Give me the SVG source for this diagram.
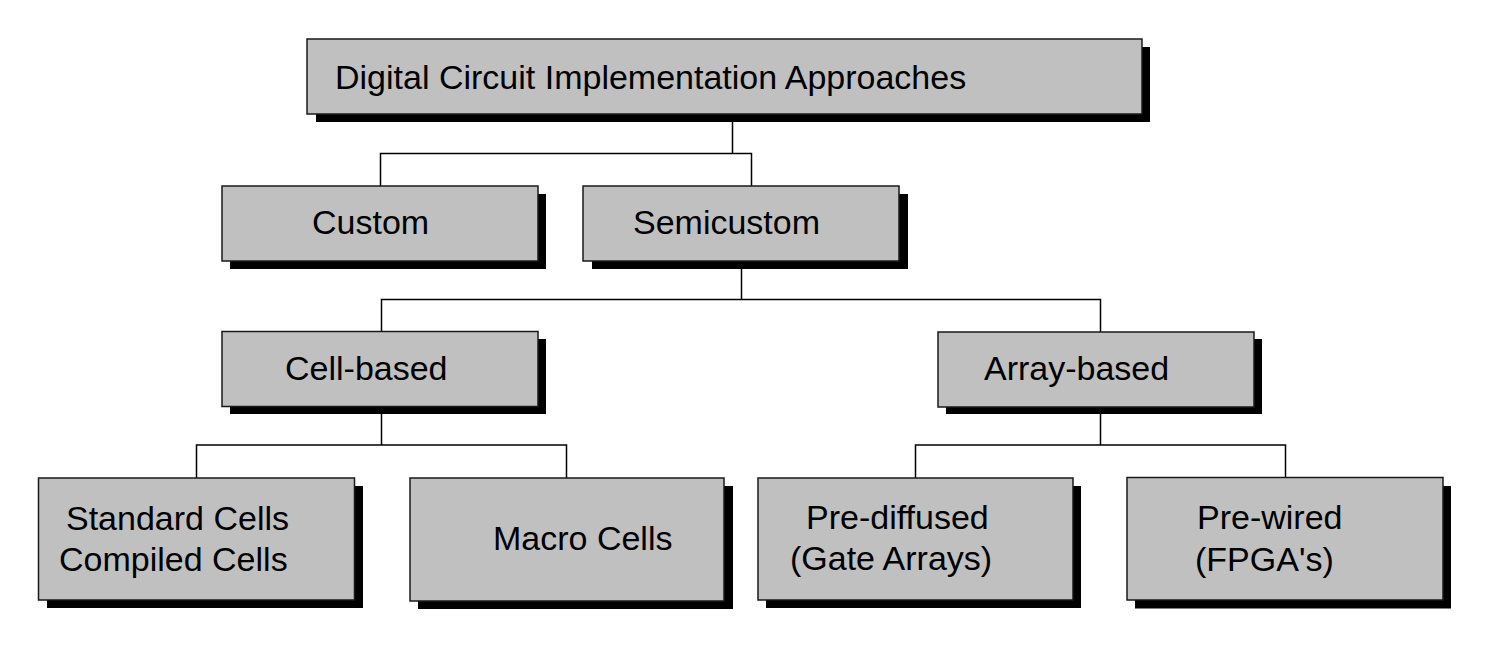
<svg xmlns="http://www.w3.org/2000/svg" width="1500" height="646" viewBox="0 0 1500 646">
<style>
.sh{fill:#000}
.bx{fill:#c0c0c0;stroke:#1a1a1a;stroke-width:1.5}
.t{font-family:"Liberation Sans",Arial,sans-serif;font-size:34px;fill:#000}
.c{fill:none;stroke:#000;stroke-width:1.5}
</style>
<rect width="1500" height="646" fill="#fff"/>
<g id="connectors">
<path class="c" d="M732.5 114V153.5H380.5V186M732.5 153.5H751.5V186"/>
<path class="c" d="M741.5 261V299.5H381.5V331.5M741.5 299.5H1100.5V332"/>
<path class="c" d="M381.5 407V445H196.5V478M381.5 445H566.5V478"/>
<path class="c" d="M1100.5 407V445H915.5V478M1100.5 445H1285.5V477.5"/>
</g>
<g id="root">
<rect class="sh" x="316" y="47" width="834" height="75"/>
<rect class="bx" x="307" y="39" width="835" height="75"/>
<text class="t" x="335" y="89">Digital Circuit Implementation Approaches</text>
</g>
<g id="custom">
<rect class="sh" x="230" y="194" width="316" height="75"/>
<rect class="bx" x="222" y="186" width="316" height="75"/>
<text class="t" x="312" y="234">Custom</text>
</g>
<g id="semicustom">
<rect class="sh" x="592" y="194" width="316" height="75"/>
<rect class="bx" x="583" y="186" width="316" height="75"/>
<text class="t" x="633" y="234">Semicustom</text>
</g>
<g id="cell-based">
<rect class="sh" x="230" y="339" width="316" height="75"/>
<rect class="bx" x="222" y="331.5" width="316" height="75"/>
<text class="t" x="285" y="380">Cell-based</text>
</g>
<g id="array-based">
<rect class="sh" x="946" y="339" width="316" height="75"/>
<rect class="bx" x="938" y="332" width="316" height="75"/>
<text class="t" x="984" y="380">Array-based</text>
</g>
<g id="standard-cells">
<rect class="sh" x="47" y="486" width="316" height="122"/>
<rect class="bx" x="38.5" y="478" width="316" height="122"/>
<text class="t" x="66" y="530">Standard Cells</text>
<text class="t" x="59" y="571">Compiled Cells</text>
</g>
<g id="macro-cells">
<rect class="sh" x="418" y="486" width="315" height="123"/>
<rect class="bx" x="410" y="478" width="314" height="123"/>
<text class="t" x="493" y="550">Macro Cells</text>
</g>
<g id="pre-diffused">
<rect class="sh" x="766" y="486" width="315" height="122"/>
<rect class="bx" x="758" y="478" width="315" height="122"/>
<text class="t" x="806" y="529">Pre-diffused</text>
<text class="t" x="790" y="570">(Gate Arrays)</text>
</g>
<g id="pre-wired">
<rect class="sh" x="1135" y="486" width="316" height="122.5"/>
<rect class="bx" x="1127" y="477.5" width="316" height="122.5"/>
<text class="t" x="1197" y="529">Pre-wired</text>
<text class="t" x="1195" y="571">(FPGA's)</text>
</g>
</svg>
